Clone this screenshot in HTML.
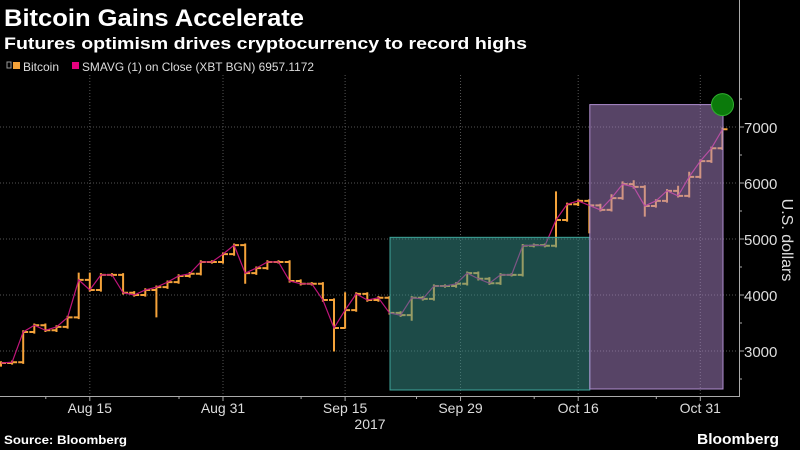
<!DOCTYPE html>
<html><head><meta charset="utf-8"><style>
body{margin:0;background:#000;width:800px;height:450px;overflow:hidden;font-family:"Liberation Sans",sans-serif;color:#fff}
svg{position:absolute;left:0;top:0}
</style></head><body>
<svg id="c" width="800" height="450">
<text x="4" y="26" font-size="24" font-weight="bold" fill="#fff" textLength="300" lengthAdjust="spacingAndGlyphs">Bitcoin Gains Accelerate</text>
<text x="4" y="49" font-size="17" font-weight="bold" fill="#fff" textLength="523" lengthAdjust="spacingAndGlyphs">Futures optimism drives cryptocurrency to record highs</text>
<g>
<rect x="7" y="62" width="4" height="6" fill="none" stroke="#999" stroke-width="1"/>
<rect x="13" y="62" width="7" height="7" fill="#f5a33a"/>
<text x="23" y="71" font-size="12" fill="#ddd">Bitcoin</text>
<rect x="72" y="62" width="7" height="7" fill="#e6007e"/>
<text x="82" y="71" font-size="12" fill="#ddd" textLength="232" lengthAdjust="spacingAndGlyphs">SMAVG (1) on Close (XBT BGN) 6957.1172</text>
</g>
<g id="grid"></g><g id="bars"></g><g id="boxes"></g><g id="axes"></g>
<text x="4" y="444" font-size="12" font-weight="bold" fill="#fff" textLength="123" lengthAdjust="spacingAndGlyphs">Source: Bloomberg</text>
<text x="697" y="444" font-size="15" font-weight="bold" fill="#fff" textLength="82" lengthAdjust="spacingAndGlyphs">Bloomberg</text>
</svg>
<script>
const closes=[2786,2800,3340,3460,3370,3430,3600,4270,4090,4360,4360,4040,4000,4090,4140,4230,4340,4380,4590,4590,4730,4890,4390,4480,4590,4590,4250,4200,4200,3910,3410,3730,4020,3910,3950,3680,3640,3950,3930,4160,4160,4200,4390,4290,4210,4360,4360,4880,4890,4880,5340,5620,5680,5600,5520,5730,5980,5930,5590,5680,5860,5770,6110,6390,6620,6960];
const lowWicks={14:3600,22:4200,30:2990,31:3400,37:3540,53:5100,58:5400};
const highWicks={7:4400,8:4400,31:4050,50:5850,55:5800,56:6030,57:6050,61:5950,62:6200};
const yTicks=[3000,4000,5000,6000,7000];
const xTickIdx=[8,20,31,41.4,52,63];
const xTickLabels=['Aug 15','Aug 31','Sep 15','Sep 29','Oct 16','Oct 31'];
const NS='http://www.w3.org/2000/svg';
const X=i=>i*11.1+1, Y=v=>127-(v-7000)*0.056;
function mk(p,t,a){const e=document.createElementNS(NS,t);for(const k in a)e.setAttribute(k,a[k]);p.appendChild(e);return e;}
const grid=document.getElementById('grid'),bars=document.getElementById('bars'),boxes=document.getElementById('boxes'),axes=document.getElementById('axes');
yTicks.forEach(v=>{const l=mk(grid,'line',{x1:0,x2:738,y1:Y(v),y2:Y(v),stroke:'#555','stroke-dasharray':'1,2'});


const t=mk(axes,'text',{x:744,y:Y(v)+6,'font-size':15,fill:'#ddd'});t.textContent=v;


mk(axes,'line',{x1:739,x2:744,y1:Y(v),y2:Y(v),stroke:'#aaa'});
mk(axes,'line',{x1:739,x2:742,y1:Y(v-500),y2:Y(v-500),stroke:'#aaa'});});
mk(axes,'line',{x1:739,x2:742,y1:Y(7500),y2:Y(7500),stroke:'#aaa'});
xTickIdx.forEach((i,k)=>{const x=X(i);const l=mk(grid,'line',{x1:x,x2:x,y1:75,y2:396,stroke:'#555','stroke-dasharray':'1,2'});


mk(axes,'line',{x1:x,x2:x,y1:396,y2:401,stroke:'#aaa'});
mk(axes,'line',{x1:x-44,x2:x-44,y1:396,y2:399,stroke:'#aaa'});
const t=mk(axes,'text',{x:x,y:413,'font-size':14,fill:'#ddd','text-anchor':'middle'});t.textContent=xTickLabels[k];

});
const yr=mk(axes,'text',{x:370,y:429,'font-size':14,fill:'#ddd','text-anchor':'middle'});yr.textContent='2017';


const ax=mk(axes,'path',{d:'M0 396.5H739.5V0',stroke:'#aaa',fill:'none'});


const yt=mk(axes,'text',{x:0,y:0,'font-size':16,fill:'#ddd','text-anchor':'middle',transform:'translate(782,240) rotate(90)'});yt.textContent='U.S. dollars';


closes.forEach((c,i)=>{const o=i?closes[i-1]:2750;let h=Math.max(o,c)+30,l=Math.min(o,c)-30;
if(highWicks[i])h=highWicks[i];if(lowWicks[i])l=lowWicks[i];const x=X(i);
const g=mk(bars,'path',{d:`M${x} ${Y(h)}V${Y(l)}M${x-5} ${Y(o)}H${x}M${x} ${Y(c)}H${x+5}`,stroke:'#f5a33a','stroke-width':2,fill:'none'});

});
const sm=mk(bars,'polyline',{points:closes.map((c,i)=>X(i)+','+Y(c)).join(' '),stroke:'#c0157a','stroke-width':1.2,fill:'none'});


const b1=mk(boxes,'rect',{x:X(35)+0.5,y:Y(5030),width:X(53)-X(35),height:390-Y(5030),fill:'rgba(58,150,143,0.5)',stroke:'#3fa69c','stroke-width':1});


const b2=mk(boxes,'rect',{x:X(53)+0.5,y:Y(7400),width:X(65)-X(53),height:389-Y(7400),fill:'rgba(174,136,204,0.5)',stroke:'#b08ed0','stroke-width':1});


const cc=mk(boxes,'circle',{cx:X(65),cy:Y(7400),r:11,fill:'#0b7a0b',stroke:'#2fb02f','stroke-width':1});


</script>
</body></html>
